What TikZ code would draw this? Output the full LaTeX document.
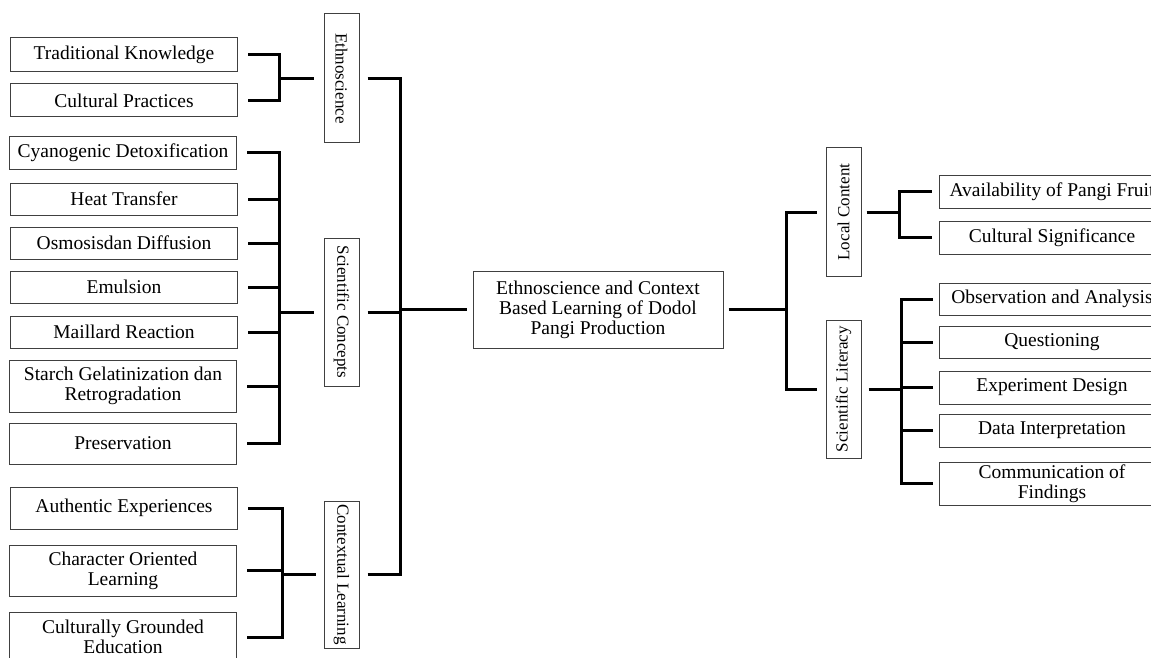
\documentclass[tikz,border=0pt]{standalone}
\usepackage{fontspec}
\setmainfont{Liberation Serif}
\usepackage{graphicx}
\usepackage{tikz}
\usetikzlibrary{calc}
\tikzset{
  link/.style={line width=3pt,black},
  leaf/.style={draw=black!75,line width=1pt,minimum width=227pt,align=center,inner sep=2pt,font=\fontsize{19.5}{20}\selectfont},
  vbox/.style={draw=black!75,line width=1pt,minimum width=35pt,inner sep=1pt,font=\fontsize{17}{18}\selectfont}
}

\begin{document}
\begin{tikzpicture}[x=1pt,y=-1pt]
\useasboundingbox (0,0) rectangle (1151,658);
\clip (0,0) rectangle (1151,658);
% left leaves
\node[leaf,minimum height=34pt] (trad) at (124,55) {Traditional Knowledge};
\node[leaf,minimum height=33pt] (cult) at (124,100.5) {Cultural Practices};
\node[leaf,minimum height=32pt] (cyan) at (123,153) {Cyanogenic Detoxification};
\node[leaf,minimum height=32pt] (heat) at (124,199) {Heat Transfer};
\node[leaf,minimum height=32pt] (osmo) at (124,243) {Osmosisdan Diffusion};
\node[leaf,minimum height=32pt] (emul) at (124,287) {Emulsion};
\node[leaf,minimum height=32pt] (mail) at (124,332) {Maillard Reaction};
\node[leaf,minimum height=52pt] (star) at (123,386) {Starch Gelatinization dan\\Retrogradation};
\node[leaf,minimum height=41pt] (pres) at (123,443.5) {Preservation};
\node[leaf,minimum height=42pt] (auth) at (124,508) {Authentic Experiences};
\node[leaf,minimum height=51pt] (char) at (123,570.5) {Character Oriented\\Learning};
\node[leaf,minimum height=50pt] (cgro) at (123,637) {Culturally Grounded\\Education};
% left groups
\node[vbox,minimum height=129pt] (eth) at (341.5,78.5) {\rotatebox{-90}{Ethnoscience}};
\node[vbox,minimum height=148pt] (sci) at (341.5,312) {\rotatebox{-90}{Scientific Concepts}};
\node[vbox,minimum height=147pt] (ctx) at (341.5,574.5) {\rotatebox{-90}{Contextual Learning}};
% core
\node[leaf,minimum width=250pt,minimum height=77pt] (core) at (598,309.5)
  {Ethnoscience and Context\\Based Learning of Dodol\\Pangi Production};
% right groups
\node[vbox,minimum height=128pt] (loc) at (843.5,212) {\rotatebox{90}{Local Content}};
\node[vbox,minimum height=138pt] (lit) at (843.5,389) {\rotatebox{90}{Scientific Literacy}};
% right leaves
\node[leaf,minimum width=226pt,minimum height=33pt] (avail) at (1052,191.5) {Availability of Pangi Fruit};
\node[leaf,minimum width=226pt,minimum height=33pt] (csig) at (1052,237.5) {Cultural Significance};
\node[leaf,minimum width=226pt,minimum height=32pt] (obs) at (1052,299) {Observation and Analysis};
\node[leaf,minimum width=226pt,minimum height=32pt] (ques) at (1052,342) {Questioning};
\node[leaf,minimum width=226pt,minimum height=33pt] (expd) at (1052,387.5) {Experiment Design};
\node[leaf,minimum width=226pt,minimum height=33pt] (data) at (1052,430.5) {Data Interpretation};
\node[leaf,minimum width=226pt,minimum height=43pt] (comm) at (1052,483.5) {Communication of\\Findings};
% bars
\coordinate (ethbar) at (279,0);
\coordinate (scibar) at (279,0);
\coordinate (ctxbar) at (282,0);
\coordinate (mainbar) at (400,0);
\coordinate (rbar) at (786,0);
\coordinate (locbar) at (899,0);
\coordinate (litbar) at (901,0);
% connectors
\foreach \kid in {trad,cult}{\draw[link] ([xshift=10]\kid.east) -| (ethbar |- eth.west);}
\draw[link] (ethbar |- eth.west) -- ([xshift=-10]eth.west);
\foreach \kid in {cyan,heat,osmo,emul,mail,star,pres}{\draw[link] ([xshift=10]\kid.east) -| (scibar |- sci.west);}
\draw[link] (scibar |- sci.west) -- ([xshift=-10]sci.west);
\foreach \kid in {auth,char,cgro}{\draw[link] ([xshift=10]\kid.east) -| (ctxbar |- ctx.west);}
\draw[link] (ctxbar |- ctx.west) -- ([xshift=-8]ctx.west);
\foreach \grp in {eth,sci,ctx}{\draw[link] ([xshift=8]\grp.east) -| (mainbar |- core.west);}
\draw[link] (mainbar |- core.west) -- ([xshift=-6]core.west);
\draw[link] ([xshift=5]core.east) -- (rbar |- core.east);
\foreach \grp in {loc,lit}{\draw[link] (rbar |- core.east) |- ([xshift=-9]\grp.west);}
\draw[link] ([xshift=5]loc.east) -- (locbar |- loc.east);
\foreach \kid in {avail,csig}{\draw[link] (locbar |- loc.east) |- ([xshift=-7]\kid.west);}
\draw[link] ([xshift=7]lit.east) -- (litbar |- lit.east);
\foreach \kid in {obs,ques,expd,data,comm}{\draw[link] (litbar |- lit.east) |- ([xshift=-6]\kid.west);}
\end{tikzpicture}
\end{document}
